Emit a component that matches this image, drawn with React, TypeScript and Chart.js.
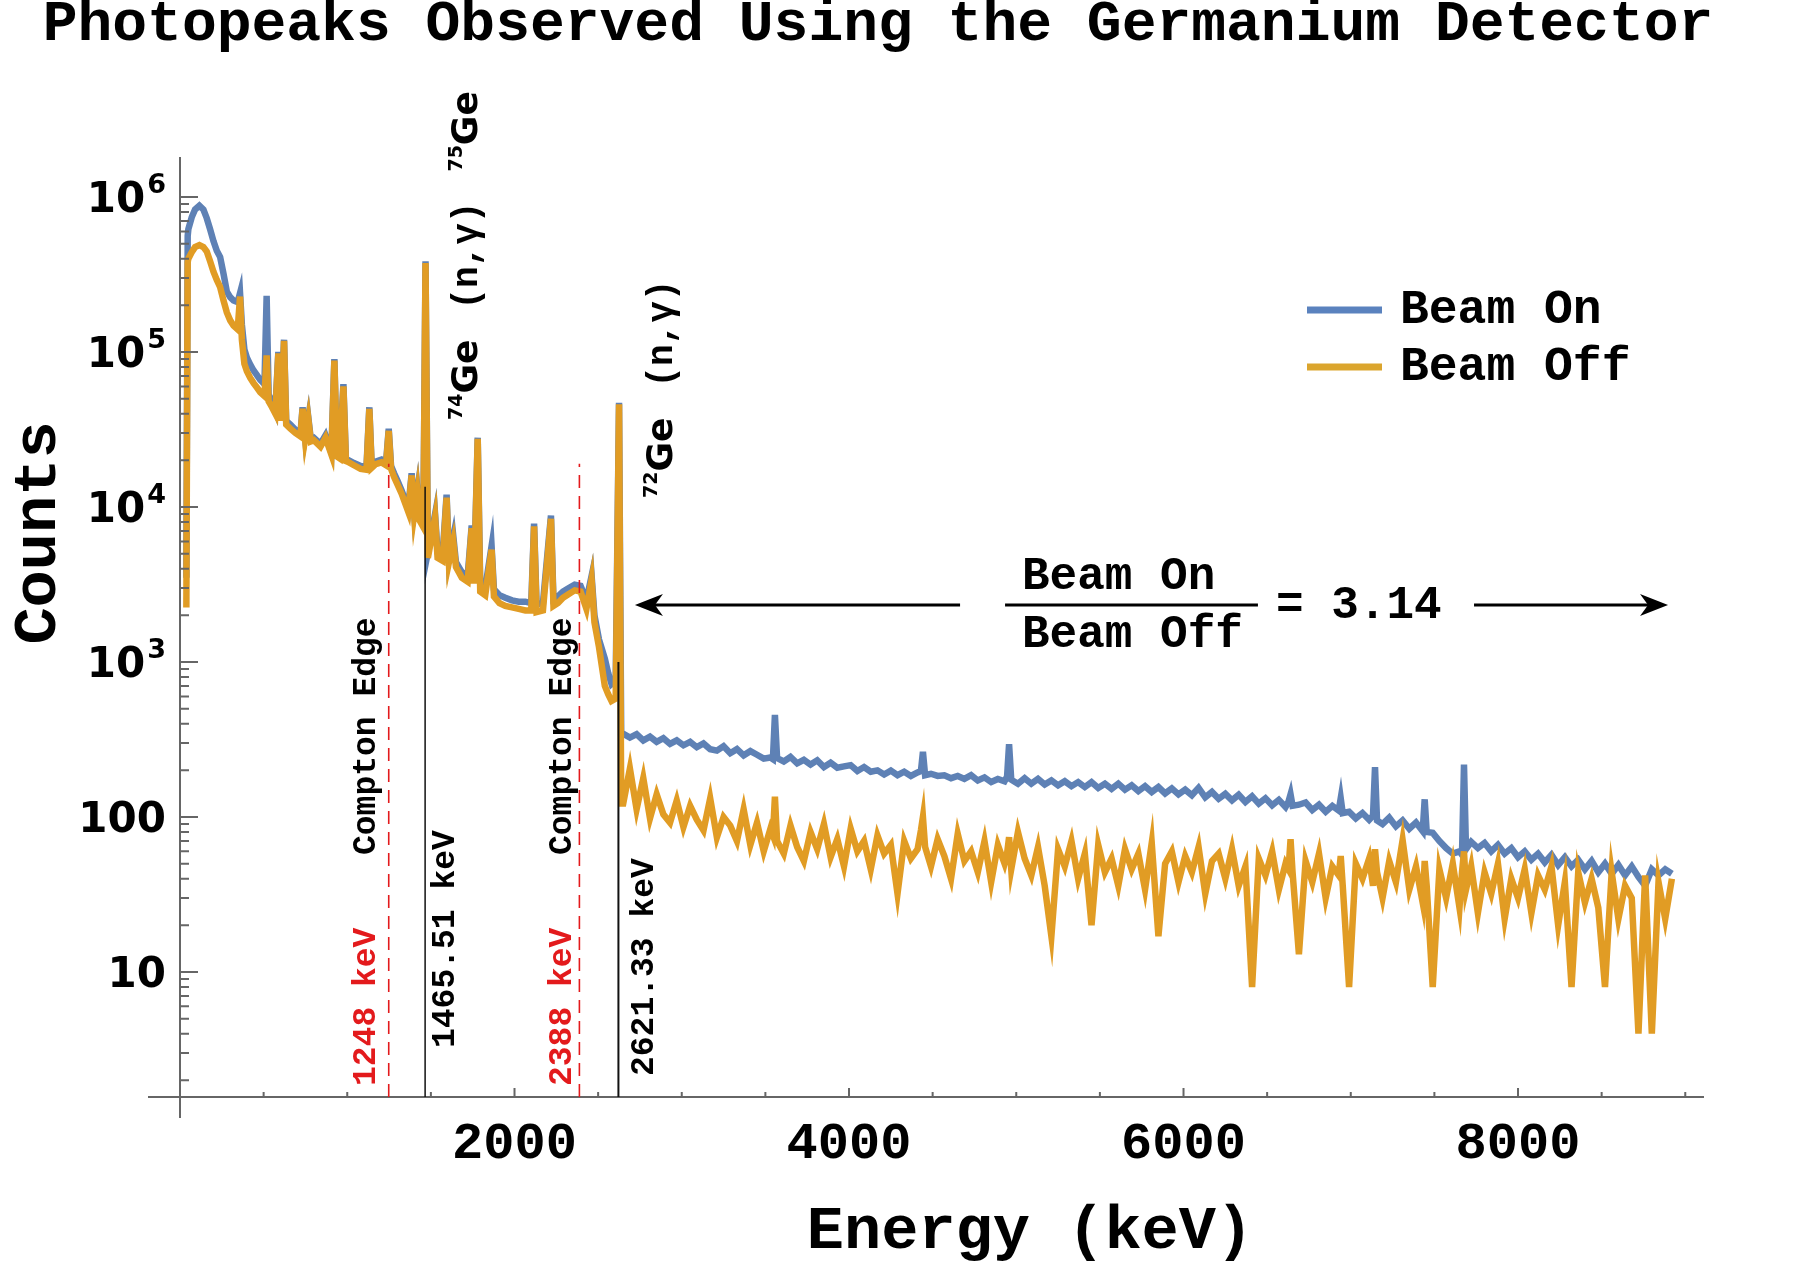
import { useEffect, useRef } from "react";
import Chart from "chart.js/auto";

// Gamma spectrum: energy (keV) and counts per bin
const energyLow = [
  38, 46, 50, 70, 90, 116, 140, 160, 180, 200,
  220, 240, 260, 280, 300, 320, 345, 359, 370, 385,
  400, 420, 440, 460, 480, 505, 518, 530, 550, 570,
  588, 605, 622, 635, 660, 690, 720, 733, 748, 767,
  782, 800, 840, 870, 905, 923, 938, 955, 977, 992,
  1010, 1040, 1080, 1115, 1132, 1146, 1170, 1205, 1232, 1248,
  1262, 1280, 1300, 1325, 1365, 1385, 1400, 1419, 1432, 1455,
  1468, 1482, 1500, 1525, 1540, 1570, 1594, 1608, 1634, 1650,
  1685, 1720, 1744, 1758, 1780, 1795, 1825, 1863, 1877, 1910,
  1945, 1985, 2025, 2065, 2100, 2117, 2132, 2170, 2218, 2233,
  2260, 2290, 2325, 2360, 2395, 2430, 2461, 2478, 2505, 2540,
  2560, 2580, 2605, 2625, 2638,
];
const beamOnLow = [
  3500, 560000, 620000, 740000, 830000, 880000, 830000, 730000, 620000, 520000,
  450000, 410000, 320000, 245000, 226000, 215000, 210000, 240000, 150000, 104000,
  92000, 83000, 76000, 71000, 66000, 62000, 230000, 53000, 48000, 42000,
  100000, 38000, 120000, 36000, 34000, 31500, 29500, 44000, 28500, 38000,
  27500, 28000, 25500, 29000, 22500, 90000, 21800, 21200, 62000, 20400,
  20000, 19200, 18400, 18200, 44000, 18600, 19600, 20200, 19400, 32000,
  18400, 16500, 14800, 12800, 9800, 16500, 9400, 13000, 8700, 7900,
  385000, 5100, 6400, 9000, 5100, 4900, 12000, 4700, 6500, 4400,
  3800, 3600, 7600, 3500, 28000, 3200, 3000, 5600, 2950, 2700,
  2600, 2500, 2450, 2450, 2400, 7800, 2350, 2400, 8800, 2550,
  2650, 2850, 3000, 3150, 3100, 2500, 3600, 2000, 1400, 1050,
  850, 720, 760, 47000, 345,
];
const beamOffLow = [
  2250, 380000, 400000, 440000, 475000, 490000, 475000, 445000, 385000, 330000,
  292000, 262000, 215000, 180000, 160000, 148000, 140000, 228000, 120000, 84000,
  75000, 68000, 63000, 59000, 55000, 52000, 95000, 48000, 44000, 40000,
  98000, 36000, 118000, 34000, 32000, 30000, 28500, 43000, 27500, 37000,
  26500, 27000, 24500, 28000, 21800, 88000, 21200, 20600, 60000, 19800,
  19400, 18600, 17600, 17400, 43000, 17900, 18900, 19400, 18600, 31000,
  17600, 15600, 14000, 12200, 9300, 16000, 8900, 12500, 8200, 7400,
  375000, 4700, 6000, 8600, 4700, 4500, 11500, 4400, 6000, 4100,
  3500, 3300, 7300, 3200, 27500, 2850, 2700, 5300, 2650, 2400,
  2300, 2250, 2200, 2150, 2150, 7500, 2100, 2150, 8400, 2300,
  2400, 2600, 2750, 2900, 2850, 2200, 3400, 1800, 1250, 700,
  620, 560, 580, 46000, 122,
];

const energyHigh = [
  2650, 2690, 2730, 2770, 2810, 2850, 2890, 2930, 2970, 3010,
  3050, 3090, 3130, 3170, 3210, 3250, 3290, 3330, 3370, 3410,
  3450, 3490, 3530, 3545, 3557, 3570, 3610, 3650, 3690, 3730,
  3770, 3810, 3850, 3890, 3930, 3970, 4010, 4050, 4090, 4130,
  4170, 4210, 4250, 4290, 4330, 4370, 4410, 4430, 4442, 4455,
  4490, 4530, 4570, 4610, 4650, 4690, 4730, 4770, 4810, 4850,
  4890, 4930, 4945, 4957, 4970, 5010, 5050, 5090, 5130, 5170,
  5210, 5250, 5290, 5330, 5370, 5410, 5450, 5490, 5530, 5570,
  5610, 5650, 5690, 5730, 5770, 5810, 5850, 5890, 5930, 5970,
  6010, 6050, 6090, 6130, 6170, 6210, 6250, 6290, 6330, 6370,
  6410, 6450, 6490, 6530, 6570, 6610, 6628, 6640, 6652, 6690,
  6730, 6770, 6810, 6850, 6890, 6928, 6940, 6952, 6990, 7030,
  7070, 7110, 7133, 7145, 7157, 7190, 7230, 7270, 7310, 7350,
  7390, 7430, 7442, 7454, 7490, 7530, 7570, 7610, 7650, 7665,
  7677, 7689, 7720, 7760, 7800, 7840, 7880, 7920, 7960, 8000,
  8040, 8080, 8120, 8160, 8200, 8240, 8280, 8320, 8360, 8400,
  8440, 8480, 8520, 8560, 8600, 8640, 8680, 8720, 8760, 8800,
  8840, 8880, 8920,
];
const beamOnHigh = [
  345, 325, 342, 312, 330, 305, 322, 296, 312, 290,
  305, 282, 298, 274, 268, 286, 258, 274, 250, 266,
  252, 238, 242, 236, 455, 240, 228, 244, 222, 234,
  218, 232, 210, 224, 208, 212, 216, 198, 210, 196,
  200, 188, 199, 186, 196, 184, 194, 198, 263, 186,
  190, 184, 186, 178, 184, 176, 186, 172, 180, 168,
  176, 170, 182, 295, 174, 164, 178, 164, 176, 162,
  172, 160, 170, 158, 168, 156, 168, 154, 164, 152,
  164, 150, 160, 147, 158, 145, 156, 142, 153, 140,
  150, 138, 154, 134, 145, 131, 141, 128, 139, 125,
  136, 122, 132, 119, 129, 116, 126, 140, 118, 120,
  124, 111, 120, 108, 118, 110, 132, 106, 108, 98,
  106, 96, 102, 210, 95, 90, 99, 87, 95, 84,
  92, 81, 130, 80, 79, 70, 63, 58, 60, 57,
  218, 62, 69, 63, 68, 60, 66, 58, 63, 55,
  60, 53, 58, 51, 57, 49, 55, 48, 53, 46,
  52, 44, 50, 43, 49, 42, 48, 41, 36, 46,
  42, 46, 43,
];
const beamOffHigh = [
  122, 205, 112, 178, 98, 140, 104, 92, 128, 86,
  118, 96, 82, 132, 74, 100, 88, 70, 112, 66,
  92, 60, 84, 76, 135, 70, 58, 88, 64, 52,
  80, 62, 90, 55, 72, 48, 84, 60, 70, 46,
  76, 58, 66, 32, 70, 54, 62, 82, 100, 64,
  48, 72, 56, 40, 78, 52, 60, 44, 70, 38,
  66, 50, 58, 74, 46, 80, 54, 42, 64, 36,
  17, 62, 48, 70, 40, 58, 20, 66, 44, 54,
  36, 62, 46, 58, 34, 68, 17, 50, 60, 38,
  56, 44, 64, 32, 52, 58, 40, 62, 36, 48,
  8, 54, 42, 60, 34, 50, 46, 72, 44, 13,
  52, 38, 58, 30, 48, 42, 56, 36, 8, 50,
  40, 54, 36, 62, 44, 30, 52, 38, 71, 34,
  48, 28, 52, 36, 8, 46, 30, 50, 26, 44,
  60, 34, 48, 24, 44, 32, 50, 22, 40, 30,
  46, 24, 42, 34, 48, 20, 38, 8, 44, 28,
  40, 26, 8, 44, 22, 36, 30, 4, 42, 4,
  38, 22, 40,
];

const xMajorTicks = [2000, 4000, 6000, 8000];
const yDecades = [1, 2, 3, 4, 5, 6];

// annotation values in data units
const comptonEdges = [1248, 2388];
const comptonTop = 19000;
const photopeaks = [1465.51, 2621.33];
const photopeakTops = [13500, 1000];
const ratioLevel = 2330;
const leftArrowKeV = [4664, 2720];
const rightArrowKeV = [7737, 8897];
const fractionKeV = [4933, 6445];

const BLUE = "#5e81b5";
const ORANGE = "#e19c24";
const RED = "#e31a1c";
const AXIS = "#666666";
const MONO = '"Liberation Mono", "Courier New", monospace';
const SANS = '"DejaVu Sans", sans-serif';

type Seg = { text: string; font: string; rise?: number; gap?: number };

// draws text reading bottom-to-top; bx is the baseline, by the start
function upText(ctx: CanvasRenderingContext2D, segs: Seg[], bx: number, by: number, color: string) {
  ctx.save();
  ctx.translate(bx, by);
  ctx.rotate(-Math.PI / 2);
  ctx.fillStyle = color;
  ctx.textAlign = "left";
  ctx.textBaseline = "alphabetic";
  let pos = 0;
  for (const s of segs) {
    pos += s.gap ?? 0;
    ctx.font = s.font;
    ctx.fillText(s.text, pos, -(s.rise ?? 0));
    pos += ctx.measureText(s.text).width;
  }
  ctx.restore();
}

function arrow(ctx: CanvasRenderingContext2D, x0: number, x1: number, yy: number) {
  const dir = Math.sign(x1 - x0);
  ctx.beginPath();
  ctx.moveTo(x0, yy);
  ctx.lineTo(x1 - dir * 18, yy);
  ctx.stroke();
  ctx.beginPath();
  ctx.moveTo(x1, yy);
  ctx.lineTo(x1 - dir * 28, yy - 11);
  ctx.lineTo(x1 - dir * 20, yy);
  ctx.lineTo(x1 - dir * 28, yy + 11);
  ctx.closePath();
  ctx.fill();
}

const decorations = {
  id: "decorations",
  afterDatasetsDraw(chart: any) {
    const { ctx, scales } = chart;
    const x = scales.x;
    const y = scales.y;
    const bottom = y.bottom;
    ctx.save();
    ctx.strokeStyle = RED;
    ctx.lineWidth = 1.6;
    ctx.setLineDash([13, 8]);
    for (const e of comptonEdges) {
      const px = x.getPixelForValue(e);
      ctx.beginPath();
      ctx.moveTo(px, bottom);
      ctx.lineTo(px, y.getPixelForValue(comptonTop));
      ctx.stroke();
    }
    ctx.setLineDash([]);
    ctx.strokeStyle = "#111";
    photopeaks.forEach((e, i) => {
      const px = x.getPixelForValue(e);
      ctx.lineWidth = i === 0 ? 1.5 : 2;
      ctx.beginPath();
      ctx.moveTo(px, bottom);
      ctx.lineTo(px, y.getPixelForValue(photopeakTops[i]));
      ctx.stroke();
    });
    ctx.restore();
  },
  afterDraw(chart: any) {
    const { ctx, scales } = chart;
    const x = scales.x;
    const y = scales.y;
    ctx.save();

    // axis extensions and inward ticks
    ctx.strokeStyle = AXIS;
    ctx.lineWidth = 2;
    ctx.beginPath();
    ctx.moveTo(x.left - 32, y.bottom);
    ctx.lineTo(x.left, y.bottom);
    ctx.moveTo(x.left, y.bottom);
    ctx.lineTo(x.left, y.bottom + 21);
    for (let e = 500; e <= x.max; e += 500) {
      const px = x.getPixelForValue(e);
      const len = e % 2000 === 0 ? 9 : 5;
      ctx.moveTo(px, y.bottom);
      ctx.lineTo(px, y.bottom - len);
    }
    for (let k = 0; k <= 6; k++) {
      for (let m = 1; m <= 9; m++) {
        const v = m * 10 ** k;
        if (v < y.min || v > y.max) continue;
        const py = y.getPixelForValue(v);
        ctx.moveTo(x.left, py);
        ctx.lineTo(x.left + (m === 1 ? 18 : 9), py);
      }
    }
    ctx.stroke();

    // y tick labels with superscripts
    ctx.fillStyle = "#000";
    ctx.textAlign = "right";
    ctx.textBaseline = "alphabetic";
    const right = x.left - 14;
    for (const k of yDecades) {
      const py = y.getPixelForValue(10 ** k);
      if (k <= 2) {
        ctx.font = `bold 42px ${SANS}`;
        ctx.fillText(String(10 ** k), right, py + 15);
      } else {
        ctx.font = `bold 27px ${SANS}`;
        const w = ctx.measureText(String(k)).width;
        ctx.fillText(String(k), right, py - 4);
        ctx.font = `bold 42px ${SANS}`;
        ctx.fillText("10", right - w - 2, py + 15);
      }
    }

    // title and axis titles
    ctx.textAlign = "center";
    ctx.font = `bold 58px ${MONO}`;
    ctx.fillText("Photopeaks Observed Using the Germanium Detector", 878, 40);
    ctx.font = `bold 62px ${MONO}`;
    ctx.fillText("Energy (keV)", 1030, 1248);
    ctx.save();
    ctx.translate(55, 533);
    ctx.rotate(-Math.PI / 2);
    ctx.fillText("Counts", 0, 0);
    ctx.restore();

    // legend
    ctx.lineWidth = 7;
    ctx.strokeStyle = "#5a82be";
    ctx.beginPath();
    ctx.moveTo(1307, 310);
    ctx.lineTo(1382, 310);
    ctx.stroke();
    ctx.strokeStyle = "#dba52d";
    ctx.beginPath();
    ctx.moveTo(1307, 367);
    ctx.lineTo(1382, 367);
    ctx.stroke();
    ctx.textAlign = "left";
    ctx.font = `bold 48px ${MONO}`;
    ctx.fillText("Beam On", 1400, 323);
    ctx.fillText("Beam Off", 1400, 380);

    // ratio annotation
    const ry = y.getPixelForValue(ratioLevel);
    ctx.strokeStyle = "#000";
    ctx.fillStyle = "#000";
    ctx.lineWidth = 3;
    arrow(ctx, x.getPixelForValue(leftArrowKeV[0]), x.getPixelForValue(leftArrowKeV[1]), ry);
    arrow(ctx, x.getPixelForValue(rightArrowKeV[0]), x.getPixelForValue(rightArrowKeV[1]), ry);
    ctx.beginPath();
    ctx.moveTo(x.getPixelForValue(fractionKeV[0]), ry);
    ctx.lineTo(x.getPixelForValue(fractionKeV[1]), ry);
    ctx.stroke();
    ctx.font = `bold 46px ${MONO}`;
    ctx.fillText("Beam On", 1022, 589);
    ctx.fillText("Beam Off", 1022, 647);
    ctx.fillText("= 3.14", 1276, 618);

    // vertical annotations
    const small = `bold 33px ${MONO}`;
    const geFont = `bold 36px ${SANS}`;
    const supFont = `bold 19px ${SANS}`;
    const ngFont = `bold 36px ${MONO}`;
    upText(ctx, [
      { text: "74", font: supFont, rise: 15 },
      { text: "Ge", font: geFont },
      { text: "(n,γ)", font: ngFont, gap: 30 },
      { text: "75", font: supFont, rise: 15, gap: 30 },
      { text: "Ge", font: geFont },
    ], 477, 420, "#000");
    upText(ctx, [
      { text: "72", font: supFont, rise: 15 },
      { text: "Ge", font: geFont },
      { text: "(n,γ)", font: ngFont, gap: 30 },
    ], 672, 498, "#000");
    upText(ctx, [{ text: "Compton Edge", font: small }], 375, 855, "#000");
    upText(ctx, [{ text: "Compton Edge", font: small }], 571, 855, "#000");
    upText(ctx, [{ text: "1248 keV", font: small }], 375, 1086, RED);
    upText(ctx, [{ text: "2388 keV", font: small }], 571, 1086, RED);
    upText(ctx, [{ text: "1465.51 keV", font: small }], 454, 1048, "#000");
    upText(ctx, [{ text: "2621.33 keV", font: small }], 653, 1076, "#000");

    ctx.restore();
  },
};

function toPoints(energy: number[], counts: number[]) {
  return energy.map((e, i) => ({ x: e, y: counts[i] }));
}

export default function App() {
  const ref = useRef<HTMLCanvasElement | null>(null);

  useEffect(() => {
    if (!ref.current) return;
    const beamOn = toPoints([...energyLow, ...energyHigh], [...beamOnLow, ...beamOnHigh]);
    const beamOff = toPoints([...energyLow, ...energyHigh], [...beamOffLow, ...beamOffHigh]);

    const chart = new Chart(ref.current, {
      type: "line",
      data: {
        datasets: [
          { label: "Beam Off", data: beamOff, borderColor: ORANGE, borderWidth: 6.5, pointRadius: 0, order: 0 },
          { label: "Beam On", data: beamOn, borderColor: BLUE, borderWidth: 6.5, pointRadius: 0, order: 1 },
        ],
      },
      options: {
        animation: false,
        responsive: true,
        maintainAspectRatio: false,
        events: [],
        layout: { padding: { left: 80, right: 96, top: 158, bottom: 64 } },
        plugins: {
          legend: { display: false },
          title: { display: false },
          tooltip: { enabled: false },
        },
        scales: {
          x: {
            type: "linear",
            min: 0,
            max: 9106,
            grid: { display: false },
            border: { display: true, color: AXIS, width: 2 },
            afterBuildTicks: (s: any) => {
              s.ticks = xMajorTicks.map((value) => ({ value }));
            },
            afterFit: (s: any) => {
              s.height = 100;
            },
            ticks: {
              autoSkip: false,
              maxRotation: 0,
              padding: 9,
              color: "#000",
              font: { family: MONO, size: 52, weight: "bold" },
              callback: (v: any) => String(v),
            },
          },
          y: {
            type: "logarithmic",
            min: 1.561,
            max: 1.785e6,
            grid: { display: false },
            border: { display: true, color: AXIS, width: 2 },
            ticks: { display: false },
            afterFit: (s: any) => {
              s.width = 100;
            },
          },
        },
      },
      plugins: [decorations],
    });

    return () => chart.destroy();
  }, []);

  return (
    <div style={{ position: "absolute", left: 0, top: 0, width: 1799, height: 1261, background: "#fff" }}>
      <canvas ref={ref} />
    </div>
  );
}
